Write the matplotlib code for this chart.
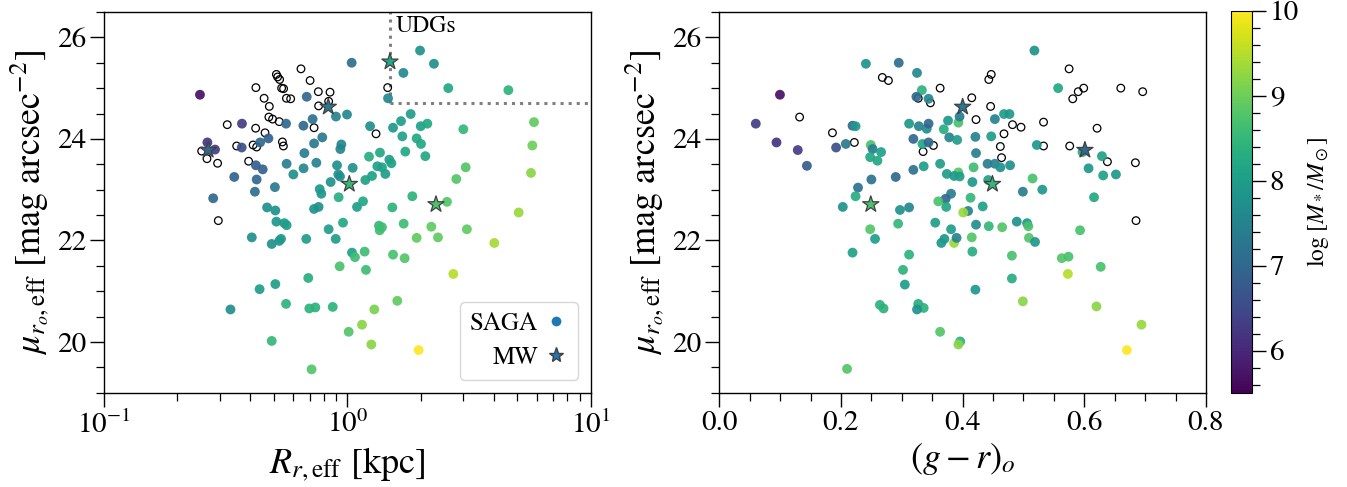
import numpy as np
import matplotlib
matplotlib.use("Agg")
import matplotlib.pyplot as plt
from matplotlib.ticker import MultipleLocator, LogLocator, NullFormatter
from matplotlib.lines import Line2D

plt.rcParams['font.family'] = 'STIXGeneral'
plt.rcParams['mathtext.fontset'] = 'stix'

# ---------------- SAGA satellites, left panel (size vs surface brightness) ----------------
saga_R = [0.248, 1.042, 1.99, 2.27, 1.70, 1.47, 2.60, 4.59, 0.681, 0.898, 0.997, 0.369, 0.560,
          0.660, 0.720, 0.789, 0.730, 0.945, 0.936, 0.266, 0.286, 0.368, 0.438, 0.474, 0.421,
          0.449, 0.343, 0.424, 0.417, 0.504, 0.281, 0.563, 0.600, 0.666, 0.661, 0.746, 0.907,
          1.052, 0.918, 0.933, 0.854, 0.770, 0.782, 0.921, 0.730, 0.762, 0.468, 0.506, 0.511,
          0.551, 0.563, 0.405, 0.489, 0.525, 0.534, 0.678, 0.838, 0.896, 0.960, 1.096, 1.160,
          1.186, 1.263, 1.228, 1.362, 1.328, 1.433, 1.488, 1.517, 1.388, 1.240, 1.541, 1.662,
          1.821, 1.683, 1.731, 1.927, 2.008, 2.003, 2.132, 2.092, 2.998, 3.065, 2.805, 2.568,
          1.850, 1.531, 1.349, 1.388, 1.358, 1.704, 1.927, 2.214, 2.358, 3.10, 4.019, 5.06,
          5.686, 5.759, 5.85, 1.045, 1.075, 1.178, 1.541, 1.720, 0.930, 1.193, 2.727, 0.691,
          0.436, 0.506, 0.560, 0.698, 0.739, 0.871, 1.291, 1.605, 0.331, 1.149, 1.013, 0.489,
          1.255, 1.964, 0.713]
saga_mu_L = [24.87, 25.50, 25.74, 25.48, 25.30, 24.80, 25.00, 24.96, 24.83, 24.44, 24.48, 24.30,
             24.30, 24.26, 24.39, 24.03, 23.91, 23.89, 23.80, 23.93, 23.79, 23.83, 23.93, 24.01,
             23.48, 23.40, 23.25, 23.20, 22.96, 23.05, 22.83, 23.51, 23.30, 23.72, 23.42, 23.53,
             23.48, 23.43, 23.30, 23.26, 23.15, 23.01, 22.92, 22.85, 22.62, 22.66, 22.65, 22.59,
             22.37, 22.34, 22.30, 22.06, 21.93, 21.99, 22.03, 22.03, 22.22, 22.03, 22.35, 22.66,
             22.77, 23.19, 23.27, 23.65, 23.73, 23.46, 23.31, 23.59, 23.52, 23.44, 24.25, 24.22,
             24.35, 24.49, 24.05, 23.75, 24.01, 23.90, 24.25, 24.30, 23.66, 24.19, 23.44, 23.21,
             22.76, 22.87, 22.65, 22.29, 22.26, 22.20, 22.33, 22.05, 22.27, 22.06, 22.22, 21.95,
             22.55, 23.33, 23.87, 24.33, 21.76, 21.67, 21.78, 21.72, 21.65, 21.49, 21.42, 21.34,
             21.26, 21.04, 21.14, 20.75, 20.66, 20.68, 20.69, 20.64, 20.81, 20.64, 20.34, 20.20,
             20.02, 19.95, 19.84, 19.46]
saga_logM_L = [5.7, 7.1, 7.8, 7.7, 7.6, 7.6, 8.2, 8.4, 7.0, 7.5, 7.6, 6.3, 7.0, 7.0, 7.2, 7.3,
               7.3, 7.6, 7.5, 6.2, 6.3, 6.6, 7.0, 6.9, 6.8, 6.9, 6.9, 7.0, 7.1, 7.3, 7.0, 7.4,
               7.7, 7.4, 7.6, 7.5, 7.7, 7.8, 7.8, 7.7, 7.8, 7.9, 7.9, 8.3, 7.8, 7.8, 7.7, 7.8,
               7.9, 7.9, 8.0, 7.7, 7.8, 7.9, 7.9, 8.0, 8.0, 8.0, 8.2, 8.0, 8.2, 8.1, 8.1, 8.3,
               8.2, 8.1, 8.0, 8.0, 8.1, 8.1, 7.7, 7.9, 8.0, 8.0, 8.1, 8.2, 8.2, 8.2, 8.1, 8.2,
               8.2, 8.5, 8.8, 8.8, 8.8, 8.4, 8.4, 8.5, 8.6, 8.6, 8.6, 8.9, 8.9, 8.9, 8.9, 9.4,
               9.3, 9.2, 9.0, 8.9, 8.1, 8.6, 8.6, 8.7, 8.8, 8.7, 8.6, 9.5, 8.3, 8.0, 8.0, 8.4,
               8.4, 8.4, 8.4, 9.1, 8.9, 7.7, 9.2, 8.8, 8.5, 9.2, 10.0, 8.8]

# SAGA galaxies without a stellar-mass colour (open circles), left panel
open_R = [0.645, 0.511, 0.517, 0.527, 0.537, 0.547, 0.421, 0.455, 0.562, 0.585, 0.478, 0.703,
          0.760, 0.849, 0.838, 0.762, 0.476, 0.493, 0.525, 0.730, 0.420, 0.321, 0.459, 0.351,
          0.410, 0.424, 0.541, 0.546, 0.252, 0.265, 0.293, 0.393, 0.295, 1.312, 1.465]
open_mu_L = [25.38, 25.27, 25.22, 25.17, 25.00, 24.99, 25.01, 24.80, 24.80, 24.79, 24.64, 25.15,
             24.93, 24.92, 24.74, 24.65, 24.43, 24.39, 24.34, 24.22, 24.21, 24.28, 24.12, 23.86,
             23.88, 23.84, 23.94, 23.86, 23.76, 23.61, 23.52, 23.56, 22.39, 24.10, 25.01]

# ---------------- SAGA satellites, right panel (colour vs surface brightness) ----------------
saga_gr = [0.518, 0.241, 0.295, 0.325, 0.333, 0.324, 0.344, 0.557, 0.0997, 0.060, 0.094, 0.129,
           0.144, 0.192, 0.208, 0.219, 0.224, 0.312, 0.328, 0.341, 0.344, 0.376, 0.369, 0.393,
           0.395, 0.453, 0.468, 0.477, 0.319, 0.334, 0.344, 0.378, 0.391, 0.421, 0.447, 0.422,
           0.249, 0.252, 0.248, 0.260, 0.266, 0.250, 0.290, 0.228, 0.224, 0.203, 0.297, 0.312,
           0.319, 0.336, 0.363, 0.374, 0.393, 0.386, 0.395, 0.418, 0.416, 0.441, 0.453, 0.462,
           0.478, 0.442, 0.515, 0.522, 0.531, 0.499, 0.597, 0.607, 0.629, 0.631, 0.652, 0.616,
           0.381, 0.372, 0.360, 0.373, 0.413, 0.433, 0.409, 0.401, 0.355, 0.381, 0.422, 0.443,
           0.465, 0.489, 0.506, 0.508, 0.294, 0.248, 0.256, 0.370, 0.365, 0.386, 0.390, 0.415,
           0.509, 0.519, 0.593, 0.219, 0.312, 0.416, 0.481, 0.563, 0.574, 0.573, 0.627, 0.302,
           0.305, 0.421, 0.481, 0.499, 0.264, 0.270, 0.327, 0.336, 0.325, 0.620, 0.694, 0.670,
           0.363, 0.396, 0.393, 0.210]
saga_mu_R = [25.74, 25.48, 25.50, 25.30, 24.96, 24.83, 24.79, 25.00, 24.87, 24.30, 23.93, 23.78,
             23.47, 23.83, 23.90, 24.26, 24.25, 24.30, 24.25, 24.20, 24.30, 24.36, 24.19, 24.32,
             24.44, 24.39, 24.49, 24.49, 24.00, 23.90, 23.93, 24.03, 23.98, 24.04, 24.05, 23.72,
             23.88, 23.80, 23.64, 23.57, 23.74, 23.20, 23.25, 23.04, 22.87, 22.66, 22.60, 22.65,
             23.39, 23.46, 23.51, 23.31, 23.34, 23.27, 23.26, 23.44, 23.15, 23.51, 23.51, 23.44,
             23.48, 23.19, 23.22, 23.88, 23.00, 22.96, 23.74, 23.42, 23.66, 23.28, 23.30, 22.85,
             22.92, 22.82, 22.77, 22.66, 22.84, 22.67, 22.58, 22.55, 22.35, 22.22, 22.31, 22.28,
             22.26, 22.37, 22.34, 22.28, 22.33, 22.22, 22.03, 22.03, 21.95, 21.95, 22.05, 22.06,
             22.05, 21.97, 22.20, 21.76, 21.72, 21.78, 21.70, 21.65, 21.68, 21.34, 21.48, 21.42,
             21.13, 21.03, 21.25, 20.80, 20.73, 20.66, 20.75, 20.67, 20.64, 20.70, 20.34, 19.84,
             20.20, 20.01, 19.95, 19.47]
saga_logM_R = [7.8, 7.8, 7.1, 7.6, 8.4, 7.0, 7.6, 8.2, 5.7, 6.3, 6.2, 6.3, 6.8, 6.6, 7.3, 7.0,
               7.9, 7.9, 7.5, 7.7, 7.0, 7.9, 8.3, 8.7, 7.4, 7.5, 8.0, 7.9, 7.0, 8.2, 7.0, 7.5,
               8.0, 7.5, 8.0, 7.4, 8.7, 7.4, 8.2, 8.2, 8.1, 7.2, 7.0, 7.2, 8.3, 7.8, 7.8, 7.6,
               7.2, 8.0, 8.0, 8.0, 8.8, 7.9, 8.0, 8.6, 7.9, 7.4, 7.5, 7.8, 7.8, 8.1, 8.7, 7.9,
               7.9, 7.4, 8.3, 7.9, 8.1, 8.1, 7.9, 8.2, 7.4, 7.0, 8.7, 8.2, 8.5, 8.1, 7.5, 9.3,
               8.0, 8.0, 7.7, 8.5, 8.8, 7.8, 7.9, 8.7, 8.5, 8.8, 8.0, 7.9, 7.9, 9.3, 7.5, 8.8,
               8.8, 7.9, 8.7, 8.1, 8.4, 8.3, 8.7, 8.8, 8.7, 9.5, 8.7, 8.4, 8.0, 7.9, 8.3, 9.2,
               8.4, 8.4, 8.3, 8.4, 7.8, 9.2, 9.3, 10.0, 8.8, 8.4, 9.2, 8.8]

open_gr = [0.268, 0.278, 0.363, 0.327, 0.347, 0.415, 0.443, 0.447, 0.446, 0.422, 0.482, 0.496,
           0.533, 0.468, 0.462, 0.464, 0.533, 0.576, 0.575, 0.590, 0.599, 0.581, 0.621, 0.638,
           0.660, 0.696, 0.684, 0.685, 0.132, 0.186, 0.222, 0.335, 0.352]
open_mu_R = [25.21, 25.15, 25.00, 24.80, 24.71, 24.81, 25.17, 25.27, 24.64, 24.38, 24.28, 24.23,
             24.33, 24.10, 23.85, 23.63, 23.86, 23.86, 25.38, 24.93, 25.00, 24.79, 24.21, 23.55,
             25.00, 24.93, 23.53, 22.39, 24.43, 24.12, 23.93, 23.75, 23.87]

# ---------------- Milky Way satellites (stars) ----------------
mw_R = [1.497, 0.835, 0.268, 1.019, 2.314]
mw_gr = [np.nan, 0.400, 0.601, 0.449, 0.249]
mw_mu = [25.52, 24.63, 23.78, 23.11, 22.71]
mw_logM = [8.2, 7.3, 7.0, 8.5, 8.7]

# UDG selection limits
udg_R = 1.5
udg_mu = 24.7

cmap = 'viridis'
vmin, vmax = 5.5, 10.0

fig = plt.figure(figsize=(13.47, 4.87), dpi=100)
ax1 = fig.add_axes([0.0772, 0.1936, 0.3613, 0.7818])
ax2 = fig.add_axes([0.5340, 0.1936, 0.3613, 0.7818])
cax = fig.add_axes([0.9139, 0.193, 0.0154, 0.785])

open_kw = dict(s=30, facecolors='none', edgecolors='black', linewidths=0.9, zorder=2)
fill_kw = dict(s=50, cmap=cmap, vmin=vmin, vmax=vmax, edgecolors='none', alpha=0.92, zorder=3)
star_kw = dict(s=150, marker='*', cmap=cmap, vmin=vmin, vmax=vmax, edgecolors='#404040',
               linewidths=0.9, zorder=4)

TICK_FS = 21
LABEL_FS = 26

# Left panel
ax1.scatter(open_R, open_mu_L, **open_kw)
sc = ax1.scatter(saga_R, saga_mu_L, c=saga_logM_L, **fill_kw)
ax1.scatter(mw_R, mw_mu, c=mw_logM, **star_kw)
ax1.plot([udg_R, udg_R], [udg_mu, 26.5], ls=':', color='gray', lw=2.2, zorder=1)
ax1.plot([udg_R, 10], [udg_mu, udg_mu], ls=':', color='gray', lw=2.2, zorder=1)
ax1.text(1.58, 26.22, 'UDGs', fontsize=17, ha='left', va='center')
ax1.set_xscale('log')
ax1.set_xlim(0.1, 10)
ax1.set_ylim(19, 26.5)
ax1.xaxis.set_major_locator(LogLocator(base=10, numticks=5))
ax1.xaxis.set_minor_locator(LogLocator(base=10, subs=np.arange(2, 10), numticks=20))
ax1.xaxis.set_minor_formatter(NullFormatter())
ax1.set_xlabel(r'$R_{r,\mathrm{eff}}$ [kpc]', fontsize=LABEL_FS)
ax1.set_ylabel(r'$\mu_{r_o,\mathrm{eff}}$ [mag arcsec$^{-2}$]', fontsize=LABEL_FS)

handles = [Line2D([], [], ls='none', marker='o', markersize=7, color='#1f77b4', markeredgecolor='none'),
           Line2D([], [], ls='none', marker='*', markersize=11, color='#1f77b4', markeredgecolor='#404040')]
ax1.legend(handles, ['SAGA', 'MW'], loc='lower right', fontsize=18, markerfirst=False,
           handletextpad=0.2, handlelength=1.0, borderpad=0.4, labelspacing=0.4,
           framealpha=0.8, edgecolor='#cccccc')

# Right panel
ax2.scatter(open_gr, open_mu_R, **open_kw)
ax2.scatter(saga_gr, saga_mu_R, c=saga_logM_R, **fill_kw)
ax2.scatter(mw_gr, mw_mu, c=mw_logM, **star_kw)
ax2.set_xlim(0.0, 0.8)
ax2.set_ylim(19, 26.5)
ax2.xaxis.set_major_locator(MultipleLocator(0.2))
ax2.xaxis.set_minor_locator(MultipleLocator(0.05))
ax2.set_xlabel(r'$(g-r)_o$', fontsize=LABEL_FS)
ax2.set_ylabel(r'$\mu_{r_o,\mathrm{eff}}$ [mag arcsec$^{-2}$]', fontsize=LABEL_FS)

for ax in (ax1, ax2):
    ax.yaxis.set_major_locator(MultipleLocator(2))
    ax.yaxis.set_minor_locator(MultipleLocator(0.5))
    ax.tick_params(which='major', direction='out', length=10, width=1.0, labelsize=TICK_FS, pad=3)
    ax.tick_params(which='minor', direction='out', length=5.5, width=0.9)
    for sp in ax.spines.values():
        sp.set_linewidth(1.0)

cb = fig.colorbar(sc, cax=cax)
cb.solids.set_alpha(1)
cb.set_ticks([6, 7, 8, 9, 10])
cb.ax.yaxis.set_minor_locator(MultipleLocator(0.2))
cb.ax.tick_params(which='major', length=10, width=1.0, labelsize=TICK_FS, pad=3)
cb.ax.tick_params(which='minor', length=5.5, width=0.9)
cb.set_label(r'$\log\,[M_*/M_\odot]$', fontsize=17, labelpad=4)

fig.savefig('out.png', dpi=100)
